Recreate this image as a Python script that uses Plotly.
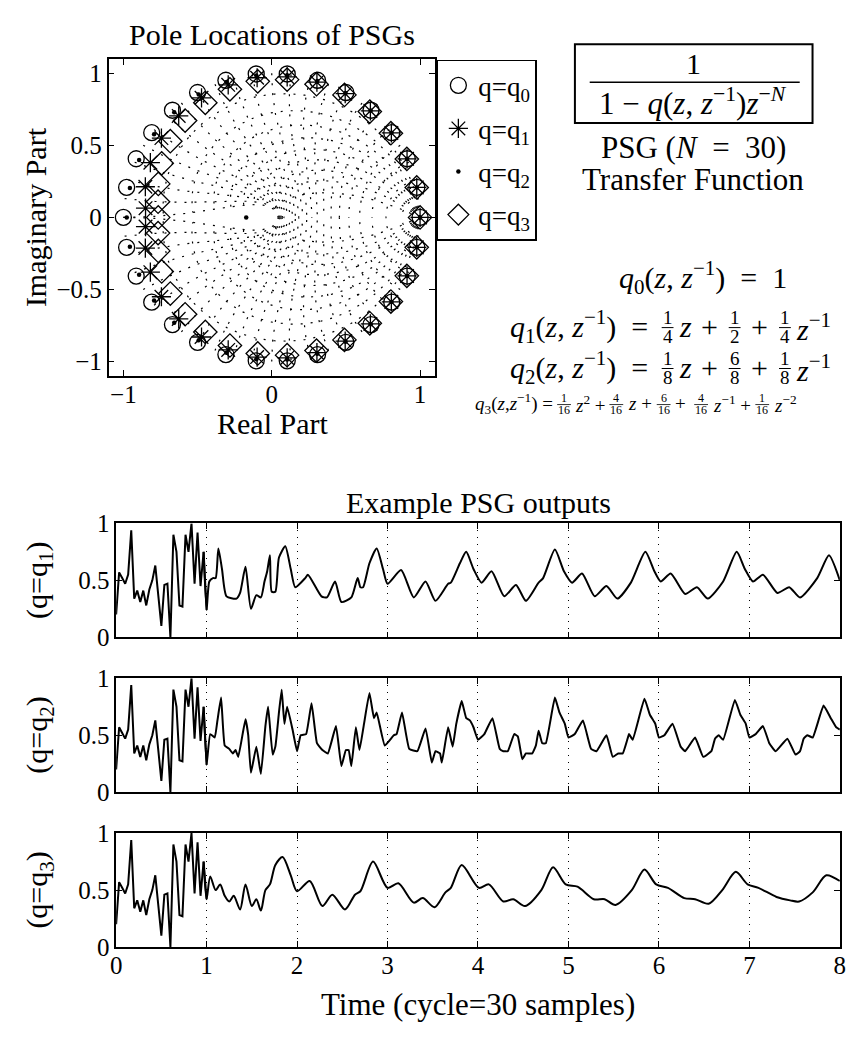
import numpy as np
import plotly.graph_objects as go

W, H = 856, 1039
def px(x): return x / W
def py(y): return 1 - y / H

FONT = "Liberation Serif"

# ---------------- pole locations (angle in degrees, radius) ----------------
q0_ang = [0, 12, 24, 36, 48, 60, 72, 84, 96, 108, 120, 132, 144, 156, 168, 180,
          -12, -24, -36, -48, -60, -72, -84, -96, -108, -120, -132, -144, -156, -168]
q0_rad = [1.0, 1.0, 1.0, 1.0, 1.0, 1.0, 1.0, 1.0, 1.0, 1.0, 1.0, 1.0, 1.0, 1.0, 1.0, 1.0,
          1.0, 1.0, 1.0, 1.0, 1.0, 1.0, 1.0, 1.0, 1.0, 1.0, 1.0, 1.0, 1.0, 1.0]

q1_ang = [0, 12, 24, 36, 48, 60, 72, 83.9, 95.8, 107.7, 119.7, 131.7, 143.5, 155.1, 166.0, 175.7,
          -12, -24, -36, -48, -60, -72, -83.9, -95.8, -107.7, -119.7, -131.7, -143.5, -155.1, -166.0, -175.7]
q1_rad = [1.0, 0.9996, 0.9985, 0.9967, 0.994, 0.9905, 0.986, 0.980, 0.9736, 0.965, 0.955, 0.9425, 0.925, 0.902, 0.878, 0.853,
          0.9996, 0.9985, 0.9967, 0.994, 0.9905, 0.986, 0.980, 0.9736, 0.965, 0.955, 0.9425, 0.925, 0.902, 0.878, 0.853]

q2_ang = [0, 12, 24, 36, 48, 60, 72, 84, 96, 108, 120, 132, 144, 156, 168, 180, 180,
          -12, -24, -36, -48, -60, -72, -84, -96, -108, -120, -132, -144, -156, -168]
q2_rad = [1.0, 0.9998, 0.9993, 0.9984, 0.9971, 0.9956, 0.9937, 0.9916, 0.9893, 0.9869, 0.9845, 0.9822, 0.9801, 0.9785, 0.9775, 0.9772, 0.172,
          0.9998, 0.9993, 0.9984, 0.9971, 0.9956, 0.9937, 0.9916, 0.9893, 0.9869, 0.9845, 0.9822, 0.9801, 0.9785, 0.9775]

q3_ang = [0, 12, 24, 36, 48, 60, 71.9, 83.8, 95.7, 107.6, 119.4, 131.0, 142.3, 153.2, 163.1, 171.9, 180,
          -12, -24, -36, -48, -60, -71.9, -83.8, -95.7, -107.6, -119.4, -131.0, -142.3, -153.2, -163.1, -171.9]
q3_rad = [1.0, 0.9993, 0.997, 0.993, 0.988, 0.981, 0.972, 0.961, 0.948, 0.932, 0.912, 0.890, 0.864, 0.831, 0.799, 0.774, 0.765,
          0.9993, 0.997, 0.993, 0.988, 0.981, 0.972, 0.961, 0.948, 0.932, 0.912, 0.890, 0.864, 0.831, 0.799, 0.774]

# ---------------- PSG outputs (time in cycles, amplitude) ----------------
# first cycle: the shared noise burst (one value per sample)
burst_t = [0.000, 0.033, 0.067, 0.100, 0.133, 0.167, 0.200, 0.233, 0.267, 0.300,
           0.333, 0.367, 0.400, 0.433, 0.467, 0.500, 0.533, 0.567, 0.600, 0.633,
           0.667, 0.700, 0.733, 0.767, 0.800, 0.833, 0.867, 0.900, 0.933, 0.967]
burst_v = [0.20, 0.57, 0.52, 0.47, 0.55, 0.94, 0.34, 0.41, 0.31, 0.41,
           0.28, 0.42, 0.50, 0.63, 0.36, 0.10, 0.46, 0.47, 0.00, 0.90,
           0.75, 0.28, 0.27, 0.90, 0.75, 1.00, 0.47, 0.92, 0.45, 0.75]

q1_t = [1.00, 1.03, 1.07, 1.10, 1.13, 1.17, 1.22, 1.33, 1.37, 1.43, 1.49, 1.55, 1.60, 1.64, 1.67,
        1.70, 1.72, 1.76, 1.80, 1.87, 1.93, 1.98, 2.09, 2.12, 2.27, 2.33, 2.42, 2.49, 2.60, 2.67,
        2.70, 2.73, 2.80, 2.88, 2.95, 3.00, 3.15, 3.29, 3.42, 3.53, 3.67, 3.70, 3.80, 3.87, 3.95,
        4.04, 4.15, 4.29, 4.42, 4.53, 4.67, 4.72, 4.85, 4.95, 5.04, 5.15, 5.29, 5.42, 5.54, 5.69,
        5.85, 5.95, 6.02, 6.13, 6.29, 6.42, 6.54, 6.71, 6.86, 6.95, 7.04, 7.15, 7.31, 7.44, 7.56,
        7.75, 7.88, 8.00]
q1_v = [0.24, 0.49, 0.52, 0.52, 0.78, 0.60, 0.36, 0.34, 0.39, 0.62, 0.25, 0.37, 0.35, 0.49, 0.58,
        0.72, 0.40, 0.40, 0.70, 0.80, 0.60, 0.44, 0.52, 0.55, 0.36, 0.35, 0.49, 0.31, 0.35, 0.52,
        0.44, 0.44, 0.65, 0.78, 0.60, 0.47, 0.59, 0.35, 0.49, 0.32, 0.47, 0.48, 0.65, 0.75, 0.60,
        0.48, 0.58, 0.36, 0.46, 0.32, 0.48, 0.52, 0.77, 0.58, 0.48, 0.56, 0.36, 0.45, 0.34, 0.48,
        0.75, 0.58, 0.49, 0.56, 0.38, 0.44, 0.34, 0.49, 0.75, 0.60, 0.49, 0.55, 0.39, 0.44, 0.35,
        0.52, 0.72, 0.50]

q2_t = [1.00, 1.04, 1.09, 1.12, 1.16, 1.20, 1.25, 1.29, 1.32, 1.35, 1.43, 1.46, 1.49, 1.55, 1.60,
        1.65, 1.68, 1.73, 1.76, 1.80, 1.83, 1.86, 1.89, 1.95, 2.00, 2.04, 2.10, 2.16, 2.22, 2.28,
        2.34, 2.43, 2.49, 2.54, 2.57, 2.60, 2.65, 2.69, 2.74, 2.80, 2.85, 2.88, 2.97, 3.07, 3.10,
        3.16, 3.24, 3.33, 3.42, 3.49, 3.53, 3.58, 3.60, 3.67, 3.72, 3.76, 3.82, 3.87, 3.91, 3.95,
        4.00, 4.07, 4.16, 4.24, 4.28, 4.33, 4.40, 4.44, 4.49, 4.53, 4.60, 4.64, 4.67, 4.71, 4.75,
        4.85, 4.90, 4.96, 5.00, 5.07, 5.16, 5.25, 5.31, 5.42, 5.49, 5.55, 5.60, 5.65, 5.67, 5.71,
        5.84, 5.90, 5.96, 6.00, 6.06, 6.15, 6.24, 6.29, 6.40, 6.49, 6.58, 6.62, 6.66, 6.71, 6.84,
        6.90, 6.96, 7.00, 7.07, 7.15, 7.22, 7.29, 7.42, 7.51, 7.56, 7.60, 7.64, 7.70, 7.82, 7.90,
        7.96, 8.00]
q2_v = [0.24, 0.51, 0.48, 0.63, 0.83, 0.41, 0.38, 0.34, 0.37, 0.31, 0.64, 0.50, 0.17, 0.40, 0.16,
        0.58, 0.75, 0.33, 0.40, 0.70, 0.90, 0.60, 0.75, 0.55, 0.36, 0.50, 0.51, 0.78, 0.43, 0.37,
        0.34, 0.58, 0.23, 0.37, 0.37, 0.23, 0.57, 0.37, 0.60, 0.87, 0.65, 0.70, 0.41, 0.50, 0.51,
        0.70, 0.38, 0.36, 0.56, 0.26, 0.36, 0.34, 0.26, 0.57, 0.40, 0.60, 0.80, 0.65, 0.63, 0.57,
        0.46, 0.51, 0.65, 0.38, 0.36, 0.36, 0.51, 0.49, 0.29, 0.34, 0.34, 0.41, 0.54, 0.43, 0.43,
        0.83, 0.70, 0.60, 0.48, 0.51, 0.63, 0.38, 0.36, 0.50, 0.31, 0.34, 0.34, 0.46, 0.51, 0.46,
        0.82, 0.68, 0.60, 0.48, 0.50, 0.60, 0.40, 0.36, 0.48, 0.31, 0.36, 0.47, 0.50, 0.46, 0.81,
        0.68, 0.60, 0.48, 0.51, 0.58, 0.43, 0.36, 0.47, 0.33, 0.36, 0.47, 0.50, 0.48, 0.76, 0.65,
        0.57, 0.55]

q3_t = [1.00, 1.04, 1.10, 1.15, 1.20, 1.25, 1.30, 1.37, 1.43, 1.50, 1.55, 1.60, 1.65, 1.70, 1.76,
        1.84, 1.93, 2.00, 2.14, 2.28, 2.39, 2.53, 2.64, 2.70, 2.84, 3.00, 3.12, 3.29, 3.39, 3.52,
        3.64, 3.70, 3.82, 4.01, 4.12, 4.28, 4.39, 4.52, 4.70, 4.83, 4.97, 5.10, 5.28, 5.40, 5.52,
        5.70, 5.84, 5.97, 6.10, 6.28, 6.40, 6.55, 6.70, 6.85, 6.98, 7.10, 7.30, 7.45, 7.55, 7.70,
        7.85, 8.00]
q3_v = [0.42, 0.62, 0.50, 0.55, 0.45, 0.40, 0.45, 0.33, 0.55, 0.36, 0.42, 0.32, 0.50, 0.55, 0.72,
        0.79, 0.63, 0.49, 0.58, 0.36, 0.46, 0.33, 0.46, 0.49, 0.75, 0.52, 0.56, 0.39, 0.43, 0.35,
        0.48, 0.52, 0.72, 0.52, 0.55, 0.40, 0.42, 0.36, 0.50, 0.70, 0.55, 0.53, 0.42, 0.42, 0.37,
        0.50, 0.68, 0.55, 0.52, 0.43, 0.42, 0.38, 0.50, 0.66, 0.55, 0.52, 0.44, 0.41, 0.40, 0.48,
        0.63, 0.58]

time_ticks = [0, 1, 2, 3, 4, 5, 6, 7, 8]

# ---------------- figure ----------------
fig = go.Figure()

# z-plane grid (constant damping / natural frequency contours), dotted
gx, gy = [], []
for zeta in [0.1, 0.2, 0.3, 0.4, 0.5, 0.6, 0.7, 0.8, 0.9]:
    wn = np.linspace(0, np.pi, 120)
    s = -zeta * wn + 1j * wn * np.sqrt(1 - zeta ** 2)
    z = np.exp(s)
    for zz in (z, np.conj(z)):
        gx += list(zz.real) + [None]
        gy += list(zz.imag) + [None]
for wn in np.arange(np.pi / 24, np.pi + 1e-9, np.pi / 24):
    zeta = np.linspace(0, 1, 80)
    s = wn * (-zeta + 1j * np.sqrt(1 - zeta ** 2))
    z = np.exp(s)
    for zz in (z, np.conj(z)):
        gx += list(zz.real) + [None]
        gy += list(zz.imag) + [None]
fig.add_trace(go.Scatter(x=gx, y=gy, mode="lines", line=dict(color="black", width=1.2, dash="2px,8px"),
                         hoverinfo="skip", showlegend=False, xaxis="x", yaxis="y"))

def polar(ang, rad):
    a = np.deg2rad(np.array(ang))
    r = np.array(rad)
    return r * np.cos(a), r * np.sin(a)

specs = [
    ("q=q<sub>0</sub>", q0_ang, q0_rad, dict(symbol="circle-open", size=16, color="black", line=dict(width=1.3, color="black"))),
    ("q=q<sub>1</sub>", q1_ang, q1_rad, dict(symbol="asterisk-open", size=16, color="black", line=dict(width=1.3, color="black"))),
    ("q=q<sub>2</sub>", q2_ang, q2_rad, dict(symbol="circle", size=4.5, color="black")),
    ("q=q<sub>3</sub>", q3_ang, q3_rad, dict(symbol="diamond-open", size=18, color="black", line=dict(width=1.3, color="black"))),
]
for i, (name, ang, rad, mk) in enumerate(specs):
    x, y = polar(ang, rad)
    fig.add_trace(go.Scatter(x=x, y=y, mode="markers", name=name, marker=mk,
                             legendgroup=f"g{i}", xaxis="x", yaxis="y"))

# time series: the noise burst drawn straight, the filtered cycles drawn smooth
series = [(q1_t, q1_v, 0.6), (q2_t, q2_v, 0.35), (q3_t, q3_v, 0.8)]
for i, (t, v, sm) in enumerate(series):
    ax = str(i + 2)
    fig.add_trace(go.Scatter(x=burst_t + t[:1], y=burst_v + v[:1], mode="lines",
                             line=dict(color="black", width=2), showlegend=False,
                             xaxis="x" + ax, yaxis="y" + ax))
    fig.add_trace(go.Scatter(x=burst_t[-1:] + t, y=burst_v[-1:] + v, mode="lines",
                             line=dict(color="black", width=2, shape="spline", smoothing=sm),
                             showlegend=False, xaxis="x" + ax, yaxis="y" + ax))

axis_common = dict(showline=True, linecolor="black", linewidth=1.5, mirror="ticks",
                   ticks="inside", ticklen=6, tickwidth=1, tickcolor="black",
                   tickfont=dict(family=FONT, size=25, color="black"), zeroline=False,
                   showgrid=False)

layout = dict(
    width=W, height=H, margin=dict(l=0, r=0, t=0, b=0),
    paper_bgcolor="white", plot_bgcolor="white",
    font=dict(family=FONT, color="black"),
    xaxis=dict(domain=[px(104), px(435)], range=[-1.1, 1.1], tickvals=[-1, 0, 1], anchor="y",
               ticklabelstandoff=-5, **axis_common),
    yaxis=dict(domain=[py(372.7), py(47)], range=[-1.1, 1.1], tickvals=[-1, -0.5, 0, 0.5, 1], anchor="x", **axis_common),
    legend=dict(x=px(437), y=py(48), xanchor="left", yanchor="top", bordercolor="black", borderwidth=1.5,
                bgcolor="white", font=dict(family=FONT, size=27, color="black"), tracegroupgap=5,
                itemsizing="trace"),
    showlegend=True,
)
plot_rows = [(524, 641), (683, 800), (842, 959)]
for i, (top, bot) in enumerate(plot_rows):
    ax = str(i + 2)
    xa = dict(domain=[px(111.7), px(845.7)], range=[0, 8], tickvals=time_ticks, anchor="y" + ax,
              ticklabelstandoff=-5,
              **{k: v for k, v in axis_common.items() if k != "showgrid"},
              showgrid=True, gridcolor="black", griddash="1px,6px", gridwidth=1)
    if i < 2:
        xa["showticklabels"] = False
    layout["xaxis" + ax] = xa
    layout["yaxis" + ax] = dict(domain=[py(bot), py(top)], range=[0, 1], tickvals=[0, 0.5, 1],
                                anchor="x" + ax, **axis_common)
fig.update_layout(**layout)

def ann(text, x, y, size, xanchor="center", angle=0, **kw):
    fig.add_annotation(text=text, x=px(x), y=py(y), xref="paper", yref="paper",
                       xanchor=xanchor, yanchor="middle", showarrow=False, textangle=angle,
                       borderpad=0, font=dict(family=FONT, size=size, color="black"), **kw)

ann("Pole Locations of PSGs", 270, 22, 30)
ann("Real Part", 270, 421, 30)
ann("Imaginary Part", 30, 210, 30, angle=-90)
ann("Example PSG outputs", 479, 503, 30)
for i, (top, bot) in enumerate(plot_rows):
    ann(f"(q=q<sub>{i+1}</sub>)", 34, (top + bot) / 2, 30, angle=-90)
ann("Time (cycle=30 samples)", 479, 1018, 31)

# transfer-function box
fig.add_shape(type="rect", xref="paper", yref="paper", x0=px(577), x1=px(818), y0=py(113), y1=py(32),
              line=dict(color="black", width=2))
ann("1", 697, 52, 30)
fig.add_shape(type="line", xref="paper", yref="paper", x0=px(592), x1=px(805), y0=py(71), y1=py(71),
              line=dict(color="black", width=1.5))
ann("1 − <i>q</i>(<i>z</i>, <i>z</i><sup>−1</sup>)<i>z</i><sup>−<i>N</i></sup>", 697, 91, 31)
ann("PSG (<i>N</i>  =  30)", 697, 138, 31)
ann("Transfer Function", 697, 171, 31)

# q formulas
ann("<i>q</i><sub>0</sub>(<i>z</i>, <i>z</i><sup>−1</sup>)  =  1", 707, 272, 30)

def frac(num, den, xc, yc, size, barw, lw=1):
    ann(num, xc, yc - size * 0.47, size)
    ann(den, xc, yc + size * 0.55, size)
    fig.add_shape(type="line", xref="paper", yref="paper", x0=px(xc - barw / 2), x1=px(xc + barw / 2),
                  y0=py(yc + 1), y1=py(yc + 1), line=dict(color="black", width=lw))

for (lab, nums, den, y0) in [("1", ("1", "1", "1"), ("4", "2", "4"), 322), ("2", ("1", "6", "1"), ("8", "8", "8"), 364)]:
    ann(f"<i>q</i><sub>{lab}</sub>(<i>z</i>, <i>z</i><sup>−1</sup>)  =", 652, y0, 30, xanchor="right")
    frac(nums[0], den[0], 671, y0, 19, 12)
    ann("<i>z</i>", 689, y0, 30)
    ann("+", 714, y0, 30)
    frac(nums[1], den[1], 739, y0, 19, 12)
    ann("+", 764, y0, 30)
    frac(nums[2], den[2], 790, y0, 19, 12)
    ann("<i>z</i><sup>−1</sup>", 800, y0, 30, xanchor="left")

# q3 (small)
y3 = 401
ann("<i>q</i><sub>3</sub>(<i>z</i>,<i>z</i><sup>−1</sup>) =", 556, y3, 19, xanchor="right")
pieces = [("1", 566), ("4", 619), ("6", 667), ("4", 705), ("1", 767)]
tails = [("<i>z</i><sup>2</sup> +", 576), ("<i>z</i> +", 630), ("+", 678), ("<i>z</i><sup>−1</sup> +", 716),
         ("<i>z</i><sup>−2</sup>", 778)]
for (n, xc), (tx, xl) in zip(pieces, tails):
    frac(n, "16", xc, y3, 12, 14, lw=0.8)
    ann(tx, xl, y3, 19, xanchor="left")

fig.write_html("out.html", config={"displayModeBar": False},
               post_script="document.body.style.margin='0px';")
